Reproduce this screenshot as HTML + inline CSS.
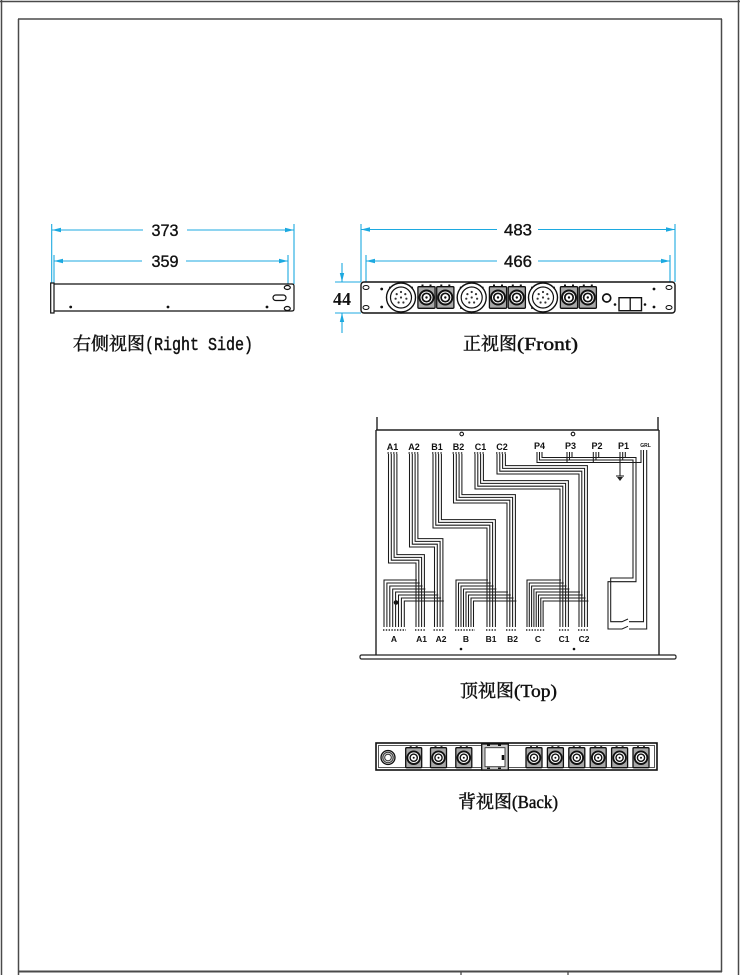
<!DOCTYPE html>
<html><head><meta charset="utf-8"><style>
html,body{margin:0;padding:0;background:#fff;}
svg{display:block;}
</style></head><body>
<svg width="740" height="975" viewBox="0 0 740 975" xmlns="http://www.w3.org/2000/svg">
<defs>
 <g id="fsq">
  <rect x="-8.6" y="-10.8" width="17.2" height="21.6" rx="1" fill="#a8a8a8" stroke="#111" stroke-width="1.3"/>
  <circle r="7" fill="#fff" stroke="#111" stroke-width="2"/>
  <circle r="4.2" fill="none" stroke="#111" stroke-width="1.7"/>
  <circle r="1.2" fill="#111"/>
  <rect x="-5" y="-13" width="2" height="2" fill="#111"/>
  <rect x="3" y="-13" width="2" height="2" fill="#111"/>
 </g>
 <g id="frd">
  <circle r="14.5" fill="#fff" stroke="#111" stroke-width="1.4"/>
  <circle r="10.5" fill="none" stroke="#111" stroke-width="1.2"/>
  <circle cx="0" cy="-5.5" r="1.1" fill="#333"/>
  <circle cx="4.3" cy="-3.4" r="1.1" fill="#333"/>
  <circle cx="5.4" cy="1.2" r="1.1" fill="#333"/>
  <circle cx="2.4" cy="5" r="1.1" fill="#333"/>
  <circle cx="-2.4" cy="5" r="1.1" fill="#333"/>
  <circle cx="-5.4" cy="1.2" r="1.1" fill="#333"/>
  <circle cx="-4.3" cy="-3.4" r="1.1" fill="#333"/>
  <circle cx="0" cy="0" r="1.1" fill="#333"/>
  <path d="M-1.5 14 L1.5 14 L0 16.5 Z" fill="#111"/>
  <circle cx="-11" cy="-10" r="1" fill="#111"/>
  <circle cx="11" cy="-10" r="1" fill="#111"/>
 </g>
 <g id="bsq">
  <rect x="-8" y="-10" width="16" height="20" rx="1" fill="#a8a8a8" stroke="#111" stroke-width="1.3"/>
  <circle r="6.3" fill="#fff" stroke="#111" stroke-width="1.9"/>
  <circle r="3.6" fill="none" stroke="#111" stroke-width="1.4"/>
  <circle r="1" fill="#111"/>
  <rect x="-4" y="-11.5" width="2" height="1.8" fill="#111"/>
  <rect x="2" y="-11.5" width="2" height="1.8" fill="#111"/>
 </g>
</defs>

<!-- frame -->
<g stroke="#4a4a4a" fill="none">
 <line x1="0" y1="1.5" x2="740" y2="1.5" stroke-width="1.5"/>
 <line x1="1.5" y1="0" x2="1.5" y2="975" stroke-width="1.5"/>
 <line x1="738.5" y1="0" x2="738.5" y2="975" stroke-width="1.5"/>
 <line x1="18" y1="19" x2="722" y2="19" stroke-width="1.5"/>
 <line x1="18.5" y1="19" x2="18.5" y2="975" stroke-width="1.5"/>
 <line x1="721.5" y1="19" x2="721.5" y2="972" stroke-width="1.5"/>
 <line x1="18" y1="971.5" x2="722" y2="971.5" stroke-width="2"/>
 <line x1="461" y1="971" x2="461" y2="975" stroke-width="1.3"/>
 <line x1="568" y1="971" x2="568" y2="975" stroke-width="1.3"/>
</g>

<!-- ============ RIGHT SIDE VIEW ============ -->
<g stroke="#1ca9e0" stroke-width="1.1" fill="none">
 <line x1="51.7" y1="224" x2="51.7" y2="283"/>
 <line x1="54" y1="255" x2="54" y2="283"/>
 <line x1="294" y1="224" x2="294" y2="284"/>
 <line x1="288" y1="255" x2="288" y2="284"/>
 <line x1="52" y1="230" x2="143" y2="230"/>
 <line x1="187" y1="230" x2="294" y2="230"/>
 <line x1="54" y1="261" x2="142" y2="261"/>
 <line x1="186" y1="261" x2="288" y2="261"/>
</g>
<g fill="#1ca9e0">
 <polygon points="52,230 61,227.8 61,232.2"/>
 <polygon points="294,230 285,227.8 285,232.2"/>
 <polygon points="54,261 63,258.8 63,263.2"/>
 <polygon points="288,261 279,258.8 279,263.2"/>
</g>
<g font-family="Liberation Sans, sans-serif" font-size="17" fill="#111" stroke="#111" stroke-width="0.35">
<text x="151.5" y="236" textLength="27" lengthAdjust="spacingAndGlyphs">373</text>
<text x="151.5" y="267" textLength="27" lengthAdjust="spacingAndGlyphs">359</text>
</g>

<g stroke="#111" stroke-width="1.2" fill="none">
 <rect x="50.7" y="283" width="3.3" height="30"/>
 <path d="M54 284 H292 Q294 284 294 286 V309 Q294 311 292 311 H54"/>
 <ellipse cx="287.3" cy="287.5" rx="3" ry="2"/>
 <ellipse cx="287.3" cy="308.5" rx="3" ry="2"/>
 <rect x="273" y="295" width="13" height="5.5" rx="2.75"/>
</g>
<g fill="#111">
 <circle cx="70.7" cy="307" r="1.4"/>
 <circle cx="168" cy="307" r="1.4"/>
 <circle cx="267" cy="307" r="1.4"/>
</g>
<g fill="#111" stroke="#111" stroke-width="0.45">
<text x="73" y="350" font-family="Noto Serif CJK SC, serif" font-size="18" textLength="72" lengthAdjust="spacingAndGlyphs">右侧视图</text>
<text x="145" y="350" font-family="Liberation Mono, monospace" font-size="18" textLength="108" lengthAdjust="spacingAndGlyphs">(Right Side)</text>
</g>

<!-- ============ FRONT VIEW ============ -->
<g stroke="#1ca9e0" stroke-width="1.1" fill="none">
 <line x1="361" y1="224" x2="361" y2="282"/>
 <line x1="675" y1="224" x2="675" y2="282"/>
 <line x1="366" y1="255" x2="366" y2="282"/>
 <line x1="670" y1="255" x2="670" y2="282"/>
 <line x1="361" y1="229.5" x2="497" y2="229.5"/>
 <line x1="538" y1="229.5" x2="675" y2="229.5"/>
 <line x1="366" y1="261" x2="497" y2="261"/>
 <line x1="538" y1="261" x2="670" y2="261"/>
 <line x1="342" y1="263" x2="342" y2="282"/>
 <line x1="342" y1="313" x2="342" y2="333"/>
 <line x1="335" y1="282" x2="361" y2="282"/>
 <line x1="335" y1="313" x2="361" y2="313"/>
</g>
<g fill="#1ca9e0">
 <polygon points="361,229.5 370,227.3 370,231.7"/>
 <polygon points="675,229.5 666,227.3 666,231.7"/>
 <polygon points="366,261 375,258.8 375,263.2"/>
 <polygon points="670,261 661,258.8 661,263.2"/>
 <polygon points="342,282 339.8,273 344.2,273"/>
 <polygon points="342,313 339.8,322 344.2,322"/>
</g>
<g font-family="Liberation Sans, sans-serif" font-size="17" fill="#111" stroke="#111" stroke-width="0.35">
<text x="504" y="235.5" textLength="28" lengthAdjust="spacingAndGlyphs">483</text>
<text x="504" y="267" textLength="28" lengthAdjust="spacingAndGlyphs">466</text>
</g>
<text x="333" y="305" font-family="Liberation Serif, serif" font-size="18" font-weight="bold" fill="#111" textLength="18" lengthAdjust="spacingAndGlyphs">44</text>

<rect x="361" y="282" width="314" height="31" rx="3" fill="#fff" stroke="#111" stroke-width="1.4"/>
<g stroke="#111" stroke-width="1" fill="none">
 <ellipse cx="366" cy="287.5" rx="3" ry="2"/>
 <ellipse cx="366" cy="307.5" rx="3" ry="2"/>
 <ellipse cx="669" cy="287.5" rx="3" ry="2"/>
 <ellipse cx="669" cy="307.5" rx="3" ry="2"/>
</g>
<g fill="#111">
 <circle cx="381.7" cy="289" r="1.4"/>
 <circle cx="381.7" cy="307" r="1.4"/>
 <circle cx="654" cy="289" r="1.4"/>
 <circle cx="654" cy="307" r="1.4"/>
 <circle cx="615" cy="304.5" r="1.3"/>
 <circle cx="645" cy="304.5" r="1.3"/>
 <circle cx="461" cy="308" r="1"/>
 <circle cx="532" cy="308" r="1"/>
</g>
<use href="#frd" x="401" y="297.5"/>
<use href="#frd" x="471.7" y="297.5"/>
<use href="#frd" x="543" y="297.5"/>
<use href="#fsq" x="426.5" y="297.5"/>
<use href="#fsq" x="445.3" y="297.5"/>
<use href="#fsq" x="498" y="297.5"/>
<use href="#fsq" x="516.8" y="297.5"/>
<use href="#fsq" x="569" y="297.5"/>
<use href="#fsq" x="587.8" y="297.5"/>
<circle cx="606.7" cy="298" r="4" fill="#fff" stroke="#111" stroke-width="1.7"/>
<rect x="619" y="297.7" width="22.5" height="13" fill="#fff" stroke="#111" stroke-width="1.4"/>
<line x1="630.2" y1="297.7" x2="630.2" y2="310.7" stroke="#111" stroke-width="1.3"/>

<g fill="#111" stroke="#111" stroke-width="0.45">
<text x="463" y="350" font-family="Noto Serif CJK SC, serif" font-size="18" textLength="54" lengthAdjust="spacingAndGlyphs">正视图</text>
<text x="517" y="350" font-family="Liberation Serif, serif" font-size="18" textLength="61" lengthAdjust="spacingAndGlyphs">(Front)</text>
</g>

<!-- ============ TOP VIEW ============ -->
<g stroke="#222" stroke-width="1.4" fill="none">
 <line x1="377" y1="417" x2="377" y2="430"/>
 <line x1="658" y1="417" x2="658" y2="430"/>
 <line x1="376" y1="430" x2="659" y2="430"/>
 <line x1="376" y1="430" x2="376" y2="655"/>
 <line x1="659" y1="430" x2="659" y2="655"/>
 <rect x="360" y="655" width="316" height="4" rx="1.5" stroke-width="1.2"/>
</g>
<circle cx="461.7" cy="434" r="1.8" fill="none" stroke="#111" stroke-width="1.1"/>
<circle cx="573" cy="434" r="1.8" fill="none" stroke="#111" stroke-width="1.1"/>

<g font-family="Liberation Sans, sans-serif" font-size="9" font-weight="bold" fill="#111" text-anchor="middle">
 <text x="392.5" y="450">A1</text>
 <text x="414" y="450">A2</text>
 <text x="437" y="450">B1</text>
 <text x="458.5" y="450">B2</text>
 <text x="480.5" y="450">C1</text>
 <text x="502" y="450">C2</text>
 <text x="539.5" y="449">P4</text>
 <text x="570.5" y="449">P3</text>
 <text x="597" y="449">P2</text>
 <text x="623.5" y="449">P1</text>
 <text x="645.5" y="447" font-size="5">GRL</text>
</g>
<g font-family="Liberation Sans, sans-serif" font-size="8.5" font-weight="bold" fill="#111" text-anchor="middle">
 <text x="394" y="642">A</text>
 <text x="421.5" y="642">A1</text>
 <text x="441" y="642">A2</text>
 <text x="466" y="642">B</text>
 <text x="491" y="642">B1</text>
 <text x="512.5" y="642">B2</text>
 <text x="538" y="642">C</text>
 <text x="564" y="642">C1</text>
 <text x="584" y="642">C2</text>
</g>
<g fill="#111">
 <circle cx="461" cy="649" r="1.3"/>
 <circle cx="574" cy="649" r="1.3"/>
 <circle cx="396" cy="602.5" r="2.3"/>
</g>

<!-- pins -->
<g stroke="#222" stroke-width="1.6" stroke-dasharray="1.4 1.4" fill="none">
 <line x1="387.5" y1="453" x2="398" y2="453"/>
 <line x1="408.5" y1="453" x2="419" y2="453"/>
 <line x1="432" y1="453" x2="442.5" y2="453"/>
 <line x1="452.5" y1="453" x2="463" y2="453"/>
 <line x1="474" y1="453" x2="484.5" y2="453"/>
 <line x1="496" y1="453" x2="506.5" y2="453"/>
 <line x1="383" y1="630" x2="406" y2="630"/>
 <line x1="415" y1="630" x2="425.5" y2="630"/>
 <line x1="433.5" y1="630" x2="444" y2="630"/>
 <line x1="455" y1="630" x2="475" y2="630"/>
 <line x1="486" y1="630" x2="496.5" y2="630"/>
 <line x1="506" y1="630" x2="516.5" y2="630"/>
 <line x1="526" y1="630" x2="544.5" y2="630"/>
 <line x1="559" y1="630" x2="569.5" y2="630"/>
 <line x1="578" y1="630" x2="588.5" y2="630"/>
</g>

<!-- wires -->
<g stroke="#1a1a1a" stroke-width="1.05" fill="none">
 <path d="M388.5 454 V563 H416 V627"/>
 <path d="M391.3 454 V560.2 H418.8 V627"/>
 <path d="M394.1 454 V557.4 H421.6 V627"/>
 <path d="M396.9 454 V554.6 H424.4 V627"/>
 <path d="M409.5 454 V547 H434.5 V627"/>
 <path d="M412.3 454 V544.2 H437.3 V627"/>
 <path d="M415.1 454 V541.4 H440.1 V627"/>
 <path d="M417.9 454 V538.6 H442.9 V627"/>
 <path d="M433 454 V528 H487 V627"/>
 <path d="M435.8 454 V525.2 H489.8 V627"/>
 <path d="M438.6 454 V522.4 H492.6 V627"/>
 <path d="M441.4 454 V519.6 H495.4 V627"/>
 <path d="M453.5 454 V503 H507 V627"/>
 <path d="M456.3 454 V500.2 H509.8 V627"/>
 <path d="M459.1 454 V497.4 H512.6 V627"/>
 <path d="M461.9 454 V494.6 H515.4 V627"/>
 <path d="M475 454 V489 H560 V627"/>
 <path d="M477.8 454 V486.2 H562.8 V627"/>
 <path d="M480.6 454 V483.4 H565.6 V627"/>
 <path d="M483.4 454 V480.6 H568.4 V627"/>
 <path d="M497 454 V474 H579 V627"/>
 <path d="M499.8 454 V471.2 H581.8 V627"/>
 <path d="M502.6 454 V468.4 H584.6 V627"/>
 <path d="M505.4 454 V465.6 H587.4 V627"/>

 <path d="M384 627 V580 H417"/>
 <path d="M386.9 627 V583 H419.8"/>
 <path d="M389.8 627 V586 H422.6"/>
 <path d="M392.7 627 V589 H425.4"/>
 <path d="M395.6 627 V592 H435.5"/>
 <path d="M398.5 627 V595 H438.3"/>
 <path d="M401.4 627 V598 H441.1"/>
 <path d="M404.3 627 V601 H443.9"/>

 <path d="M456 627 V580 H488"/>
 <path d="M458.5 627 V583 H490.8"/>
 <path d="M461 627 V586 H493.6"/>
 <path d="M463.5 627 V589 H496.4"/>
 <path d="M466 627 V592 H508"/>
 <path d="M468.5 627 V595 H510.8"/>
 <path d="M471 627 V598 H513.6"/>
 <path d="M473.5 627 V601 H516.4"/>

 <path d="M527 627 V580 H561"/>
 <path d="M529.3 627 V583 H563.8"/>
 <path d="M531.6 627 V586 H566.6"/>
 <path d="M533.9 627 V589 H569.4"/>
 <path d="M536.2 627 V592 H580"/>
 <path d="M538.5 627 V595 H582.8"/>
 <path d="M540.8 627 V598 H585.6"/>
 <path d="M543.1 627 V601 H588.4"/>

 <!-- P section -->
 <path d="M537 452 V462.5 H641 V450"/>
 <path d="M539.5 452 V460 H633 V578 H610.7 V621.7 H622 L628 619 M629 621.7 H643.5 V450"/>
 <path d="M542 452 V457.5 H636 V581.7 H608 V629 H622 L628 626.3 M629 629 H646.7 V450"/>
 <path d="M567 452 V462.5"/>
 <path d="M569.5 452 V460"/>
 <path d="M572 452 V457.5"/>
 <path d="M593.3 452 V462.5"/>
 <path d="M596 452 V460"/>
 <path d="M598.7 452 V457.5"/>
 <path d="M622.7 452 V460"/>
 <path d="M625.3 452 V457.5"/>
 <path d="M620 452 V476"/>
 <path d="M616 476 H624"/>
</g>
<polygon points="617,477 623,477 620,481" fill="#222"/>

<g fill="#111" stroke="#111" stroke-width="0.45">
<text x="460" y="697" font-family="Noto Serif CJK SC, serif" font-size="18" textLength="54" lengthAdjust="spacingAndGlyphs">顶视图</text>
<text x="514" y="697" font-family="Liberation Serif, serif" font-size="18" textLength="43" lengthAdjust="spacingAndGlyphs">(Top)</text>
</g>

<!-- ============ BACK VIEW ============ -->
<rect x="376" y="743" width="281" height="27" fill="#fff" stroke="#111" stroke-width="1.6"/>
<rect x="378.5" y="745.5" width="276" height="22" fill="none" stroke="#444" stroke-width="0.9"/>
<circle cx="388" cy="757.5" r="7" fill="#d8d8d8" stroke="#111" stroke-width="1.3"/>
<circle cx="388" cy="757.5" r="5.2" fill="none" stroke="#333" stroke-width="1"/>
<circle cx="388" cy="757.5" r="3.3" fill="#fff" stroke="#333" stroke-width="1"/>
<use href="#bsq" x="413.7" y="757.7"/>
<use href="#bsq" x="438.5" y="757.7"/>
<use href="#bsq" x="463.8" y="757.7"/>
<use href="#bsq" x="534" y="757.7"/>
<use href="#bsq" x="555.4" y="757.7"/>
<use href="#bsq" x="576.8" y="757.7"/>
<use href="#bsq" x="598.2" y="757.7"/>
<use href="#bsq" x="619.6" y="757.7"/>
<use href="#bsq" x="641" y="757.7"/>
<rect x="481.7" y="744" width="26.6" height="26" fill="#c8c8c8" stroke="#111" stroke-width="1.3"/>
<rect x="485" y="747.7" width="20" height="19" fill="#fff" stroke="#333" stroke-width="0.9"/>
<rect x="501.7" y="755" width="2.5" height="5" fill="#111"/>
<g fill="#111">
 <rect x="487" y="744.5" width="3" height="1.5"/>
 <rect x="498" y="744.5" width="3" height="1.5"/>
 <rect x="487" y="767.5" width="3" height="1.5"/>
 <rect x="498" y="767.5" width="3" height="1.5"/>
</g>

<g fill="#111" stroke="#111" stroke-width="0.45">
<text x="458" y="808" font-family="Noto Serif CJK SC, serif" font-size="18" textLength="54" lengthAdjust="spacingAndGlyphs">背视图</text>
<text x="512" y="808" font-family="Liberation Serif, serif" font-size="18" textLength="46" lengthAdjust="spacingAndGlyphs">(Back)</text>
</g>
</svg>
</body></html>
